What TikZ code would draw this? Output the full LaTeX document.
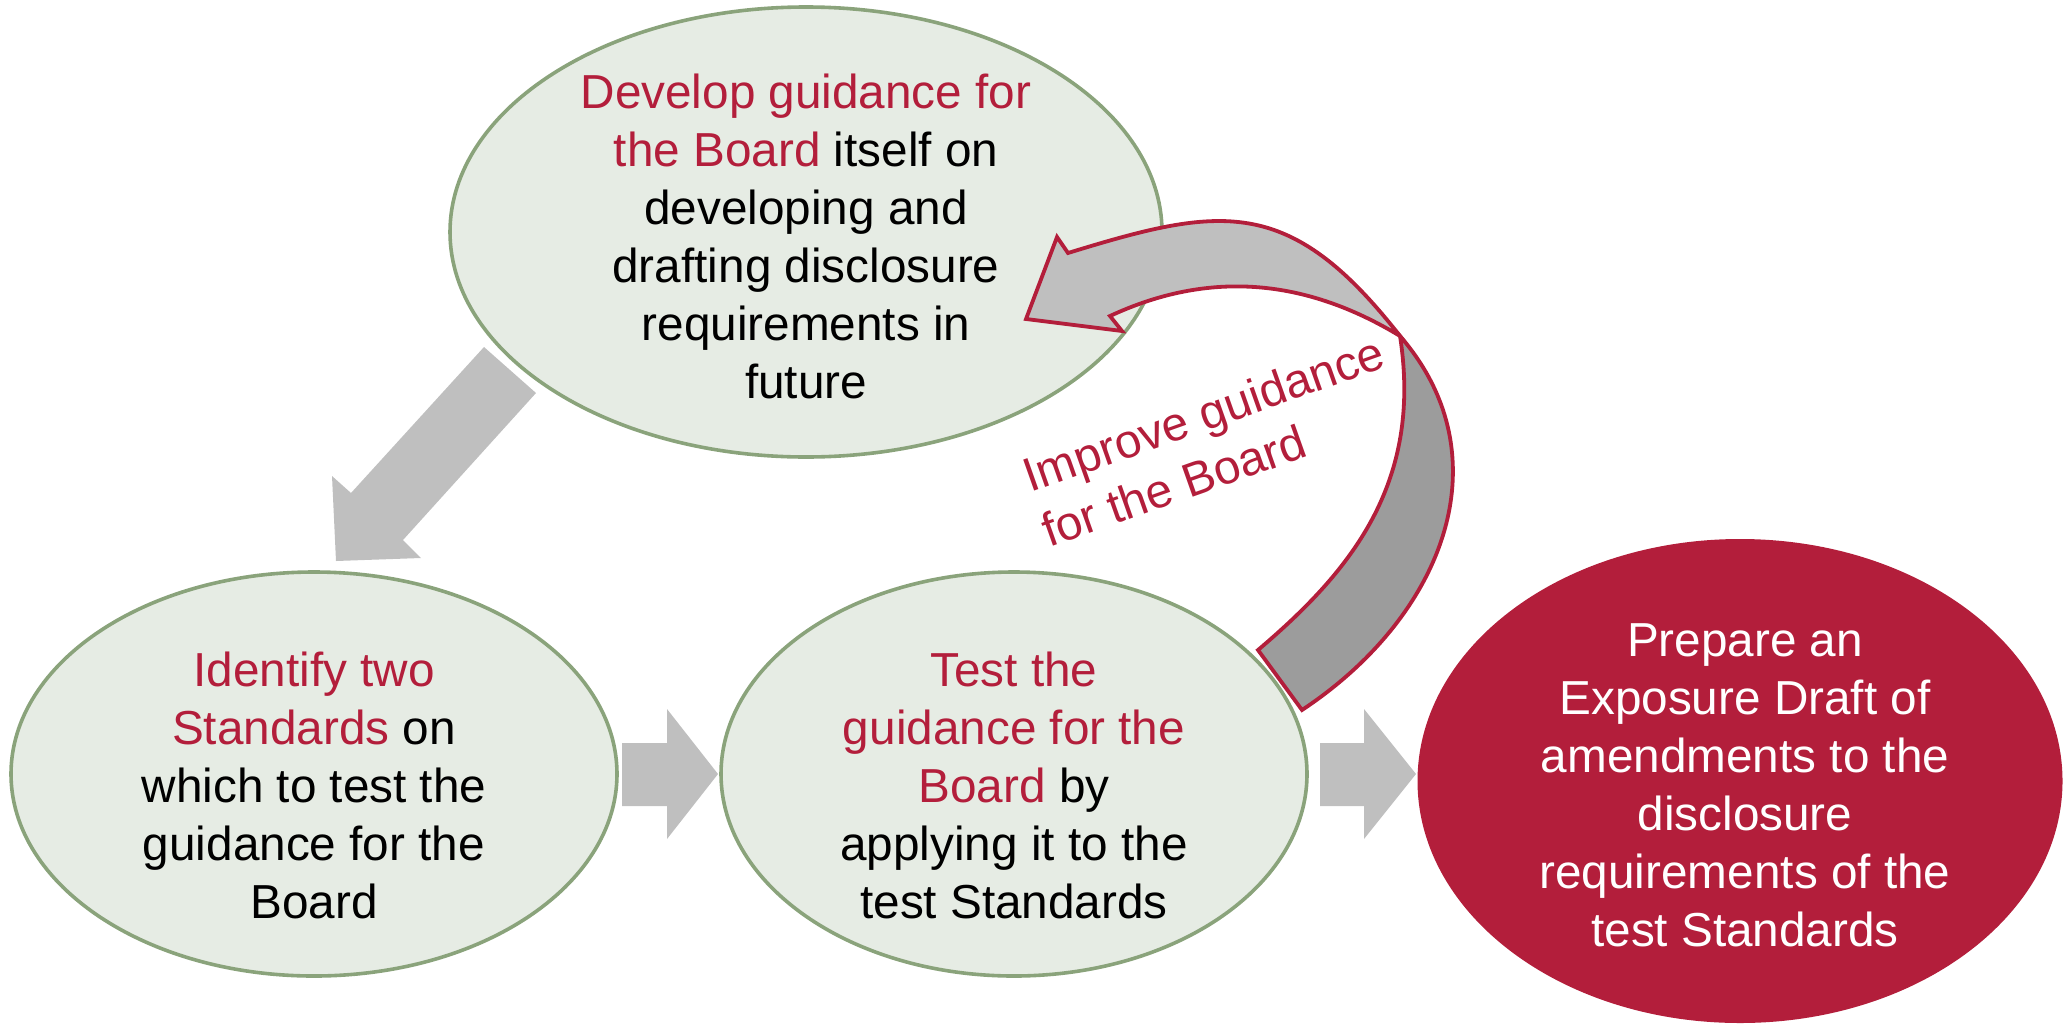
\documentclass[tikz,border=0pt]{standalone}
\usepackage{fontspec}
\setmainfont{Liberation Sans}
\usetikzlibrary{shapes.geometric}
\definecolor{crim}{HTML}{B31E3B}
\definecolor{gfill}{HTML}{E6ECE4}
\definecolor{gline}{HTML}{8AA37B}
\definecolor{lgray}{HTML}{BFBFBF}
\definecolor{dgray}{HTML}{9C9C9C}
\newcommand{\hl}[1]{\textcolor{crim}{#1}}
\begin{document}
\begin{tikzpicture}[x=1pt,y=-1pt,
  greenell/.style={ellipse, draw=gline, fill=gfill, line width=3.6pt, inner sep=0pt},
  redell/.style={ellipse, fill=crim, inner sep=0pt},
  txt/.style={align=center, inner sep=0pt, font=\fontsize{47.7}{58}\selectfont},
  blockarrow/.style={fill=lgray},
  curvearrow/.style={draw=crim, line width=3.8pt, line join=miter}]
\useasboundingbox (0,0) rectangle (2063,1023);

% ellipses
\node[greenell, minimum width=712pt, minimum height=450pt] (top) at (806,232) {};
\node[greenell, minimum width=606pt, minimum height=404pt] (left) at (314,774) {};
\node[greenell, minimum width=586pt, minimum height=404pt] (mid) at (1014,774) {};
\node[redell, minimum width=645pt, minimum height=484pt] (right) at (1740,781) {};

% block arrows
\fill[blockarrow] (484,347) -- (536,393) -- (403,540) -- (421,558) -- (336,561) -- (332,476) -- (351,493) -- cycle;
\fill[blockarrow] (622,743) -- (667,743) -- (667,709) -- (718,774) -- (667,839) -- (667,806) -- (622,806) -- cycle;
\fill[blockarrow] (1320,743) -- (1364,743) -- (1364,709) -- (1416,774) -- (1364,839) -- (1364,806) -- (1320,806) -- cycle;

% curved arrow
\filldraw[curvearrow, fill=lgray] (1110,316)
  .. controls (1210,269.5) and (1306,279) .. (1400,336)
  .. controls (1289,194) and (1221,206) .. (1068,253)
  -- (1057,237) -- (1026,319) -- (1122,331) -- cycle;
\filldraw[curvearrow, fill=dgray] (1400,336)
  .. controls (1505,457) and (1444,616) .. (1302,710)
  -- (1258,650)
  .. controls (1350,572) and (1423,484) .. (1400,336)
  -- cycle;

% texts
\node[txt] (toptxt) at (806,236) {\hl{Develop guidance for}\\\hl{the Board} itself on\\developing and\\drafting disclosure\\requirements in\\future};
\node[txt] (lefttxt) at (314,785) {\hl{Identify two}\\\hl{Standards} on\\which to test the\\guidance for the\\Board};
\node[txt] (midtxt) at (1014,785) {\hl{Test the}\\\hl{guidance for the}\\\hl{Board} by\\applying it to the\\test Standards};
\node[txt, text=white] (righttxt) at (1745,785) {Prepare an\\Exposure Draft of\\amendments to the\\disclosure\\requirements of the\\test Standards};
\node[txt, text=crim, anchor=base west, rotate=19.5] (imp1) at (1030,493) {Improve guidance};
\node[txt, text=crim, anchor=base west, rotate=19.5] (imp2) at (1049,548) {for the Board};
\end{tikzpicture}
\end{document}
